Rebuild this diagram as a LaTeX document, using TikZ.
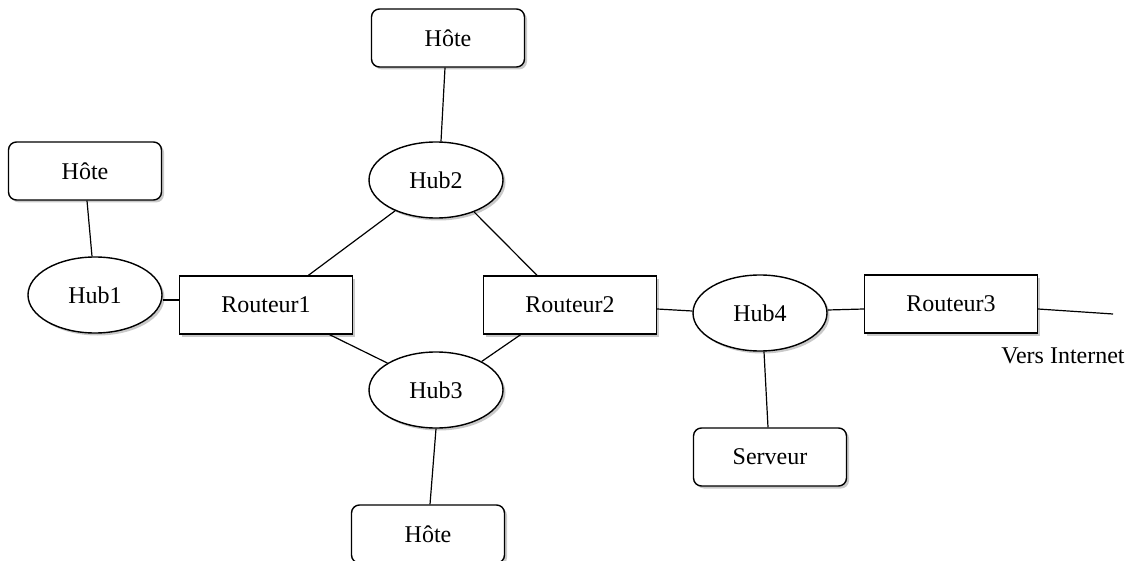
\documentclass[tikz,border=0pt]{standalone}
\usepackage{fontspec}
\setmainfont{Liberation Serif}
\usetikzlibrary{shapes.geometric,shadows,calc}
\begin{document}
\begin{tikzpicture}[x=1pt,y=-1pt,
  base/.style={draw=black, line width=1.4pt, fill=white, font=\fontsize{24}{28}\selectfont, inner sep=0pt,
    drop shadow={shadow xshift=2.5pt, shadow yshift=-2.5pt, opacity=0.3, fill=black!70}},
  hostbox/.style={base, rectangle, rounded corners=8pt, minimum width=153pt, minimum height=58pt},
  routerbox/.style={base, rectangle, minimum width=173pt, minimum height=58pt},
  hubnode/.style={base, ellipse, minimum width=134pt, minimum height=76pt},
  link/.style={line width=1.2pt},
  lbl/.style={font=\fontsize{24}{28}\selectfont, inner sep=0pt}]
\useasboundingbox (0,0) rectangle (1134,561);

\node[hostbox] (h1) at (448,38) {Hôte};
\node[hostbox] (h2) at (85,171) {Hôte};
\node[hostbox] (h3) at (428,534) {Hôte};
\node[hostbox] (srv) at (770,457) {Serveur};

\node[hubnode] (hub1) at (95,295) {Hub1};
\node[hubnode] (hub2) at (436,180) {Hub2};
\node[hubnode] (hub3) at (436,390) {Hub3};
\node[hubnode] (hub4) at (760,313) {Hub4};

\node[routerbox] (r1) at (266,305) {Routeur1};
\node[routerbox] (r2) at (570,305) {Routeur2};
\node[routerbox] (r3) at (951,304) {Routeur3};

\node[lbl] (vi) at (1063,356) {Vers Internet};
\coordinate (inet) at (1113,314);

\draw[link] ($(h1.south)+(-3,0)$) -- ($(hub2.north)+(5,0)$);
\draw[link] ($(h2.south)+(2,0)$) -- ($(hub1.north)+(-3,0)$);
\draw[link] ($(hub1.east)+(0,5)$) -- ($(r1.west)+(0,-5)$);
\draw[link] (hub2.217) -- (r1.35);
\draw[link] (hub2.320) -- (r2.138);
\draw[link] (r1.335) -- (hub3.151);
\draw[link] (r2.211) -- (hub3.32);
\draw[link] (hub3.south) -- ($(h3.north)+(2,0)$);
\draw[link] ($(r2.east)+(0,4)$) -- ($(hub4.west)+(0,-2)$);
\draw[link] ($(hub4.east)+(0,-3)$) -- ($(r3.west)+(0,5)$);
\draw[link] ($(r3.east)+(0,5)$) -- (inet);
\draw[link] ($(hub4.south)+(4,0)$) -- ($(srv.north)+(-2,0)$);
\end{tikzpicture}
\end{document}
